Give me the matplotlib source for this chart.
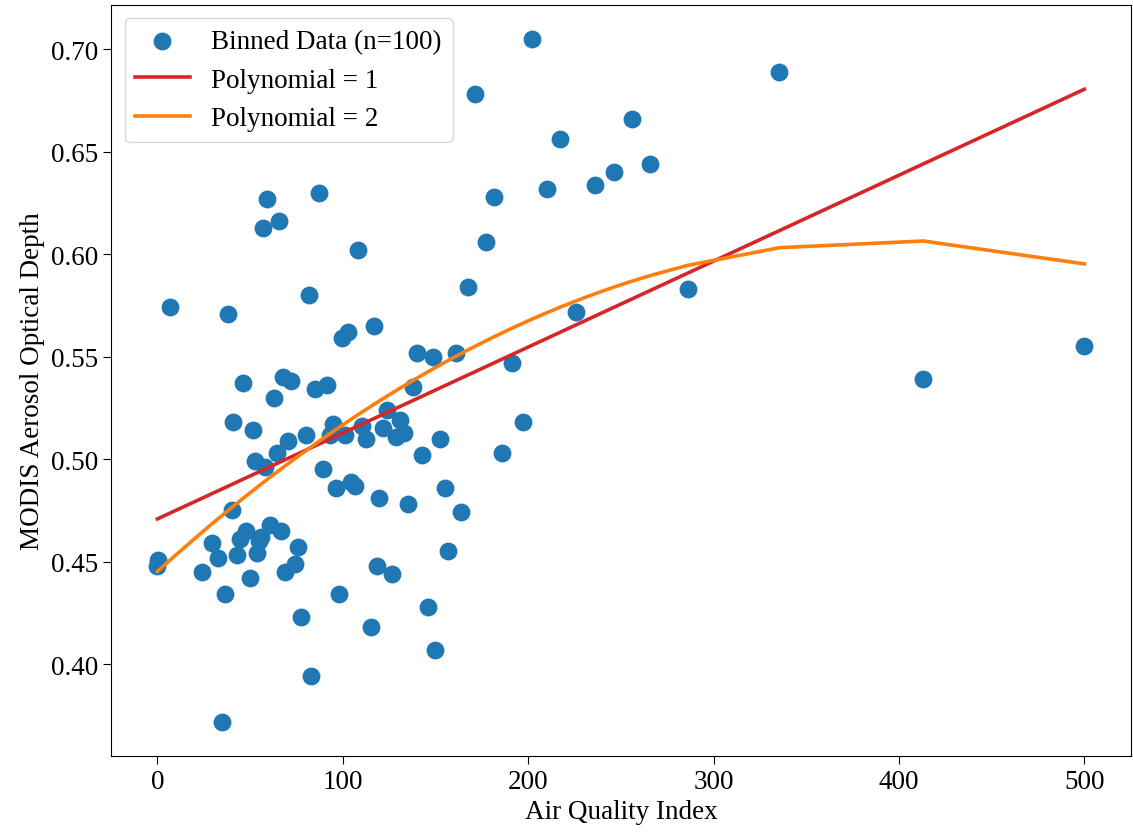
import numpy as np
import matplotlib.pyplot as plt

# binned AQI vs MODIS AOD
aqi = [0, 0.5, 7, 24, 29.5, 32.7, 35, 36.4, 38, 40,
       41, 43, 44.5, 46, 48, 50, 51.4, 52.5, 53.6, 54.7,
       55.7, 56.8, 57.9, 59, 60.5, 62.7, 64.3, 65.4, 66.5, 67.5,
       68.6, 70.7, 72.3, 74, 76, 77.7, 79.9, 82, 83, 85.2,
       87.4, 89.5, 91.6, 93.2, 94.9, 96.5, 98, 99.7, 101.3, 103,
       104.5, 106.6, 108.3, 110.4, 112.5, 115, 116.8, 118.4, 119.5, 121.6,
       123.8, 126.5, 128.6, 130.8, 132.9, 135, 137.7, 139.9, 142.6, 145.8,
       148.4, 150, 152.7, 154.9, 157, 161.3, 164, 167.7, 171.5, 177.4,
       181.7, 186, 191.3, 197.2, 202, 210, 217, 226, 235.8, 246.5,
       256, 265.8, 286, 335.5, 413, 500]
aod = [0.448, 0.451, 0.574, 0.445, 0.459, 0.452, 0.372, 0.434, 0.571, 0.475,
       0.518, 0.453, 0.461, 0.537, 0.465, 0.442, 0.514, 0.499, 0.454, 0.460,
       0.462, 0.613, 0.496, 0.627, 0.468, 0.530, 0.503, 0.616, 0.465, 0.540,
       0.445, 0.509, 0.538, 0.449, 0.457, 0.423, 0.512, 0.580, 0.394, 0.534,
       0.630, 0.495, 0.536, 0.512, 0.517, 0.486, 0.434, 0.559, 0.512, 0.562,
       0.489, 0.487, 0.602, 0.516, 0.510, 0.418, 0.565, 0.448, 0.481, 0.515,
       0.524, 0.444, 0.511, 0.519, 0.513, 0.478, 0.535, 0.552, 0.502, 0.428,
       0.550, 0.407, 0.510, 0.486, 0.455, 0.552, 0.474, 0.584, 0.678, 0.606,
       0.628, 0.503, 0.547, 0.518, 0.705, 0.632, 0.656, 0.572, 0.634, 0.640,
       0.666, 0.644, 0.583, 0.689, 0.539, 0.555]

plt.rcParams['font.family'] = ['Liberation Serif', 'DejaVu Serif']

x = np.array(aqi)
y = np.array(aod)
order = np.argsort(x)
xs = x[order]

fit1 = np.polyval(np.polyfit(x, y, 1), xs)
fit2 = np.polyval(np.polyfit(x, y, 2), xs)

fig = plt.figure(figsize=(11.33, 8.37), dpi=100)
ax = fig.add_subplot(111)
fig.subplots_adjust(left=0.098, right=0.998, top=0.993, bottom=0.096)

ax.scatter(x, y, s=140, color='#1f77b4', label='Binned Data (n=100)', zorder=2)
ax.plot(xs, fit1, color='#d62728', lw=2.6, label='Polynomial = 1', zorder=3)
ax.plot(xs, fit2, color='#ff7f0e', lw=2.6, label='Polynomial = 2', zorder=3)

ax.set_xlabel('Air Quality Index', fontsize=19.5)
ax.set_ylabel('MODIS Aerosol Optical Depth', fontsize=19.5)
ax.tick_params(labelsize=19.5, length=6)
ax.set_yticks([0.40, 0.45, 0.50, 0.55, 0.60, 0.65, 0.70])
ax.yaxis.set_major_formatter(plt.FormatStrFormatter('%.2f'))

ax.legend(loc='upper left', fontsize=19.5)

fig.savefig('out.png', dpi=100)
